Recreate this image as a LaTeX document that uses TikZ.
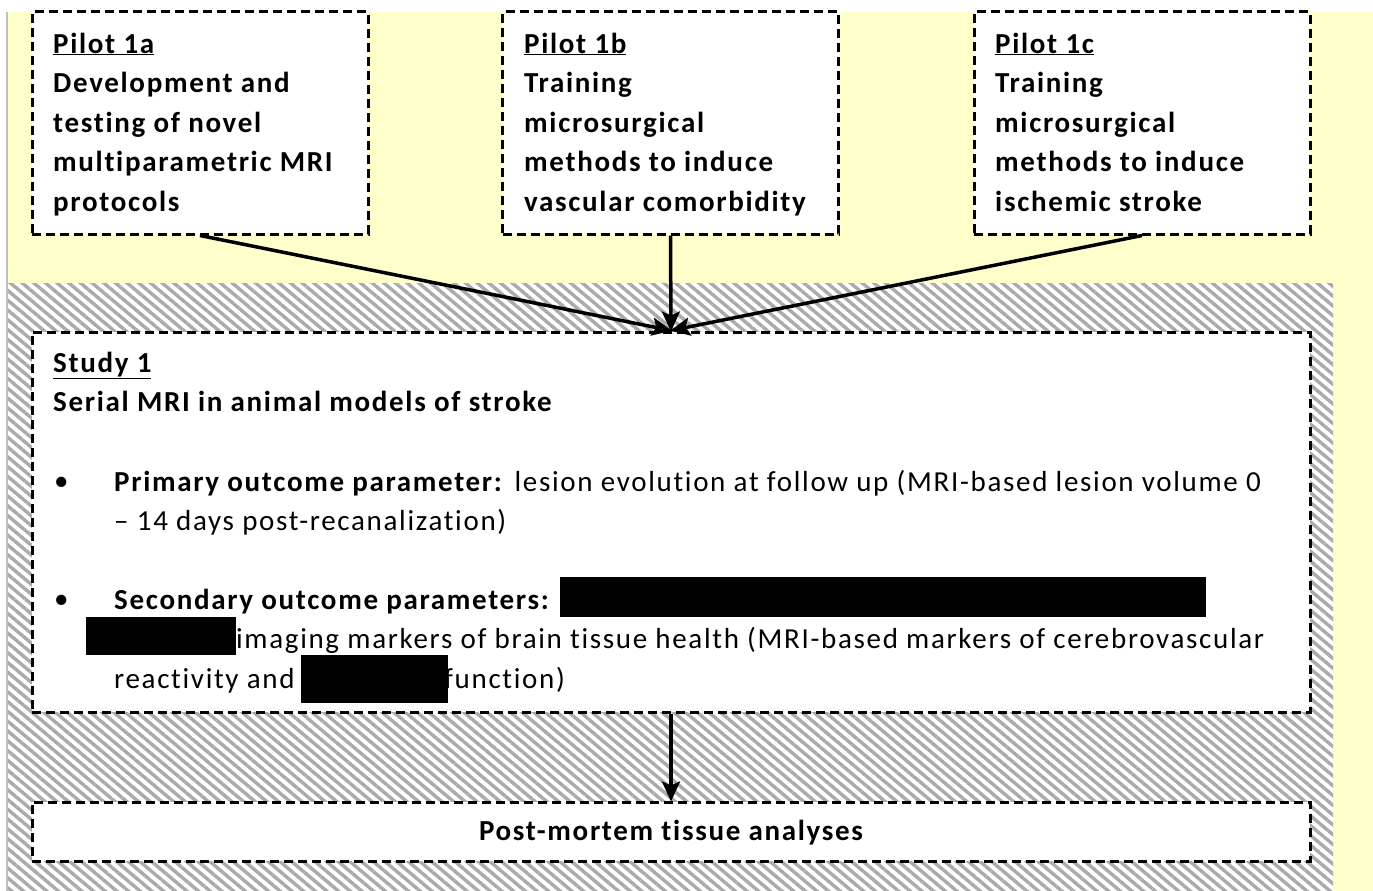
\documentclass[tikz,border=0pt]{standalone}
\usepackage{fontspec}
\setmainfont{Carlito}[LetterSpace=5.8,Ligatures=NoCommon]
\usetikzlibrary{patterns.meta,arrows.meta}
\definecolor{bgyellow}{HTML}{FFFFCC}
\definecolor{hatchgray}{HTML}{AAAAAA}
\definecolor{edgegray}{HTML}{BFBFBF}
\tikzset{
  dbox/.style={draw=black, line width=3pt, dash pattern=on 9pt off 5pt, fill=white, inner sep=0pt, rectangle},
  txt/.style={anchor=base west, inner sep=0pt, font=\fontsize{29}{34}\selectfont},
  btxt/.style={txt, font=\fontsize{29}{34}\selectfont\bfseries},
  conn/.style={line width=3.5pt, -{Stealth[length=20pt,width=18pt,inset=4pt]}, shorten >=-1pt},
  redact/.style={fill=black, draw=none},
}
\begin{document}
\begin{tikzpicture}[x=1pt,y=-1pt]
\useasboundingbox (0,0) rectangle (1373,891);
% backgrounds
\fill[white] (0,0) rectangle (1373,891);
\fill[bgyellow] (8,12) rectangle (1373,891);
\draw[edgegray, line width=2pt] (7,12) -- (7,891);
\fill[white] (8,283) rectangle (1333,891);
\fill[pattern={Lines[angle=-40,distance=7.5pt,line width=3.4pt]}, pattern color=hatchgray] (8,283) rectangle (1333,891);

% boxes
\node[dbox, minimum width=336pt, minimum height=222pt] (p1a) at (200,123) {};
\node[dbox, minimum width=336pt, minimum height=222pt] (p1b) at (670.5,123) {};
\node[dbox, minimum width=336pt, minimum height=222pt] (p1c) at (1142,123) {};
\node[dbox, minimum width=1278pt, minimum height=380pt] (s1) at (671,522) {};
\node[dbox, minimum width=1278pt, minimum height=59pt] (pm) at (671,831.5) {};

% Pilot 1a text
\node[btxt] (a1) at (53,53) {\underline{Pilot 1a}};
\node[btxt] (a2) at (53,92.5) {Development and};
\node[btxt] (a3) at (53,132) {testing of novel};
\node[btxt] (a4) at (53,171.5) {multiparametric MRI};
\node[btxt] (a5) at (53,211) {protocols};
% Pilot 1b text
\node[btxt] (b1) at (524,53) {\underline{Pilot 1b}};
\node[btxt] (b2) at (524,92.5) {Training};
\node[btxt] (b3) at (524,132) {microsurgical};
\node[btxt] (b4) at (524,171.5) {methods to induce};
\node[btxt] (b5) at (524,211) {vascular comorbidity};
% Pilot 1c text
\node[btxt] (c1) at (995,53) {\underline{Pilot 1c}};
\node[btxt] (c2) at (995,92.5) {Training};
\node[btxt] (c3) at (995,132) {microsurgical};
\node[btxt] (c4) at (995,171.5) {methods to induce};
\node[btxt] (c5) at (995,211) {ischemic stroke};

% Study 1 text
\node[btxt] (s1t1) at (53,372) {\underline{Study 1}};
\node[btxt] (s1t2) at (53,411) {Serial MRI in animal models of stroke};
\node[txt] (bul1) at (54,490) {•};
\node[txt] (l1) at (114,491) {\textbf{Primary outcome parameter:} lesion evolution at follow up (MRI-based lesion volume 0};
\node[txt] (l2) at (114,530) {– 14 days post-recanalization)};
\node[txt] (bul2) at (54,608) {•};
\node[btxt] (l3) at (114,609) {Secondary outcome parameters:};
\node[txt] (l4) at (236,648) {imaging markers of brain tissue health (MRI-based markers of cerebrovascular};
\node[txt] (l5a) at (114,688) {reactivity and};
\node[txt] (l5b) at (444,688) {function)};

% redactions
\fill[redact] (560,577) rectangle (1206,617);
\fill[redact] (86,617) rectangle (236,655);
\fill[redact] (301,655) rectangle (448,703);

% post-mortem
\node[btxt, anchor=base] (pmt) at (671,840) {Post-mortem tissue analyses};

% connectors
\draw[conn] (p1a.south) -- (s1.north);
\draw[conn] (p1b.south) -- (s1.north);
\draw[conn] (p1c.south) -- (s1.north);
\draw[conn] (s1.south) -- (pm.north);
\end{tikzpicture}
\end{document}
